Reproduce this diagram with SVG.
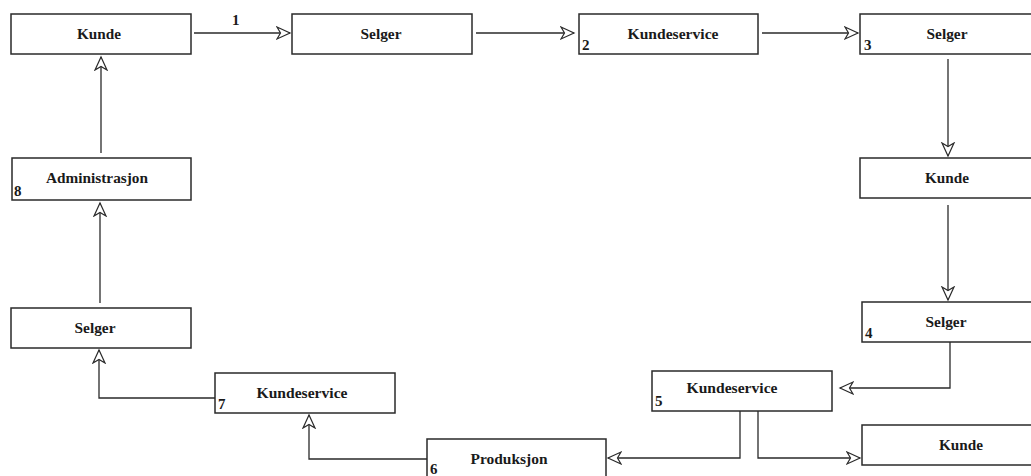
<svg xmlns="http://www.w3.org/2000/svg" width="1031" height="476" viewBox="0 0 1031 476">
<defs>
<style>
.box{fill:#fff;stroke:#2a2a2a;stroke-width:1.5}
.lbl{font-family:"Liberation Serif","DejaVu Serif",serif;font-weight:bold;font-size:15px;fill:#1a1a1a;text-anchor:middle}
.num{font-family:"Liberation Serif","DejaVu Serif",serif;font-weight:bold;font-size:15px;fill:#1a1a1a}
.con{fill:none;stroke:#2a2a2a;stroke-width:1.3;marker-end:url(#ah)}
</style>
<marker id="ah" markerUnits="userSpaceOnUse" markerWidth="17" markerHeight="17" refX="14" refY="7.5" orient="auto">
<path d="M1,1.5 L14,7.5 L1,13.5 L4.5,7.5 Z" fill="#fff" stroke="#2a2a2a" stroke-width="1.2" stroke-linejoin="miter"/>
</marker>
</defs>
<rect width="1031" height="476" fill="#fff"/>

<g id="connectors">
<path class="con" d="M194,33 H290"/>
<path class="con" d="M476,33 H574"/>
<path class="con" d="M762,33 H858"/>
<path class="con" d="M948,59 V156"/>
<path class="con" d="M948,205 V300"/>
<path class="con" d="M950,342 V388 H840"/>
<path class="con" d="M740,411 V458 H608"/>
<path class="con" d="M758,411 V458 H860"/>
<path class="con" d="M427,459 H309 V415"/>
<path class="con" d="M215,398 H99 V350"/>
<path class="con" d="M100,303 V203"/>
<path class="con" d="M101,153 V57"/>
<text class="num" x="232" y="25">1</text>
</g>

<g id="kunde1"><rect class="box" x="11" y="14" width="180" height="40"/><text class="lbl" x="99" y="39" textLength="44" lengthAdjust="spacingAndGlyphs">Kunde</text></g>
<g id="selger1"><rect class="box" x="292" y="14" width="180" height="40"/><text class="lbl" x="381" y="39" textLength="41" lengthAdjust="spacingAndGlyphs">Selger</text></g>
<g id="kundeservice2"><rect class="box" x="579" y="14" width="179" height="40"/><text class="lbl" x="673" y="39" textLength="91" lengthAdjust="spacingAndGlyphs">Kundeservice</text><text class="num" x="582" y="50">2</text></g>
<g id="selger3"><rect class="box" x="860" y="14" width="174" height="40"/><text class="lbl" x="947" y="39" textLength="41" lengthAdjust="spacingAndGlyphs">Selger</text><text class="num" x="864" y="50">3</text></g>
<g id="kunde-right"><rect class="box" x="860" y="158" width="174" height="40"/><text class="lbl" x="947" y="183" textLength="44" lengthAdjust="spacingAndGlyphs">Kunde</text></g>
<g id="selger4"><rect class="box" x="862" y="302" width="172" height="40"/><text class="lbl" x="946" y="327" textLength="41" lengthAdjust="spacingAndGlyphs">Selger</text><text class="num" x="865" y="338">4</text></g>
<g id="kundeservice5"><rect class="box" x="652" y="371" width="180" height="40"/><text class="lbl" x="732" y="393" textLength="91" lengthAdjust="spacingAndGlyphs">Kundeservice</text><text class="num" x="655" y="406">5</text></g>
<g id="kunde-bottom"><rect class="box" x="862" y="425" width="200" height="40"/><text class="lbl" x="961" y="450" textLength="44" lengthAdjust="spacingAndGlyphs">Kunde</text></g>
<g id="produksjon"><rect class="box" x="427" y="439" width="179" height="45"/><text class="lbl" x="509" y="464" textLength="77" lengthAdjust="spacingAndGlyphs">Produksjon</text><text class="num" x="430" y="474">6</text></g>
<g id="kundeservice7"><rect class="box" x="215" y="373" width="180" height="40"/><text class="lbl" x="302" y="398" textLength="91" lengthAdjust="spacingAndGlyphs">Kundeservice</text><text class="num" x="218" y="409">7</text></g>
<g id="selger-left"><rect class="box" x="11" y="308" width="180" height="40"/><text class="lbl" x="95" y="333" textLength="41" lengthAdjust="spacingAndGlyphs">Selger</text></g>
<g id="administrasjon"><rect class="box" x="12" y="158" width="179" height="42"/><text class="lbl" x="97" y="183" textLength="102" lengthAdjust="spacingAndGlyphs">Administrasjon</text><text class="num" x="14" y="196">8</text></g>
</svg>
